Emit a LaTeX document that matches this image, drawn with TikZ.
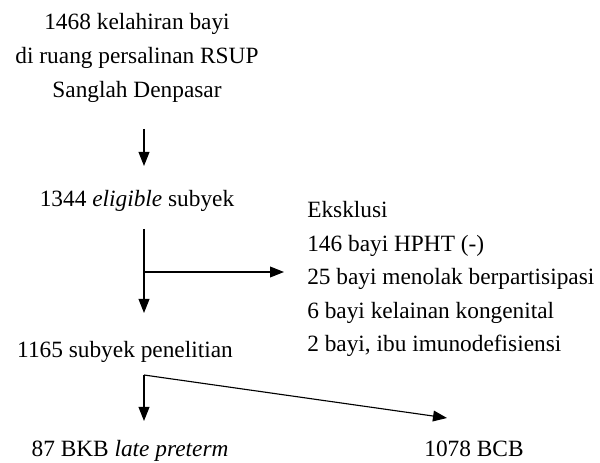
\documentclass[tikz,border=0pt]{standalone}
\usepackage{fontspec}
\setmainfont{Liberation Serif}
\usepackage{tikz}
\usetikzlibrary{arrows.meta}

\begin{document}
\begin{tikzpicture}[thick,>={Triangle[length=0.35cm,width=0.27cm]},font=\fontsize{16.6}{24}\selectfont]
\useasboundingbox (0,0) rectangle (15,11.575);

%%Alur
\node (top) [align=center] at (3.425,10.125) {1468 kelahiran bayi\\di ruang persalinan RSUP\\Sanglah Denpasar};
\node (elig) [anchor=base] at (3.425,6.4) {1344 \textit{eligible} subyek};
\node (subj) [anchor=base] at (3.125,2.625) {1165 subyek penelitian};
\node (bkb) [anchor=base] at (3.25,0.15) {87 BKB \textit{late preterm}};
\node (bcb) [anchor=base] at (11.85,0.15) {1078 BCB};

%%Eksklusi
\node (eks) [anchor=base west] at (7.55,6.125) {Eksklusi};
\node (hpht) [anchor=base west] at (7.55,5.2875) {146 bayi HPHT (-)};
\node (tolak) [anchor=base west] at (7.55,4.45) {25 bayi menolak berpartisipasi};
\node (kongen) [anchor=base west] at (7.55,3.6125) {6 bayi kelainan kongenital};
\node (imun) [anchor=base west] at (7.55,2.775) {2 bayi, ibu imunodefisiensi};

%%Panah
\coordinate (p1a) at (3.6,8.35);
\coordinate (p1b) at (3.6,7.425);
\coordinate (p2a) at (3.6,5.85);
\coordinate (p2b) at (3.6,3.75);
\coordinate (cab1) at (3.6,4.775);
\coordinate (eksb) at (7.1,4.775);
\coordinate (cab2) at (3.6,2.2);
\coordinate (p3b) at (3.6,1.05);
\coordinate (bcbb) at (11.175,1.125);

\draw[->] (p1a) -- (p1b);
\draw[->] (p2a) -- (p2b);
\draw[->] (cab1) -- (eksb);
\draw[->] (cab2) -- (p3b);
\draw[->] (cab2) -- (bcbb);
\end{tikzpicture}
\end{document}
